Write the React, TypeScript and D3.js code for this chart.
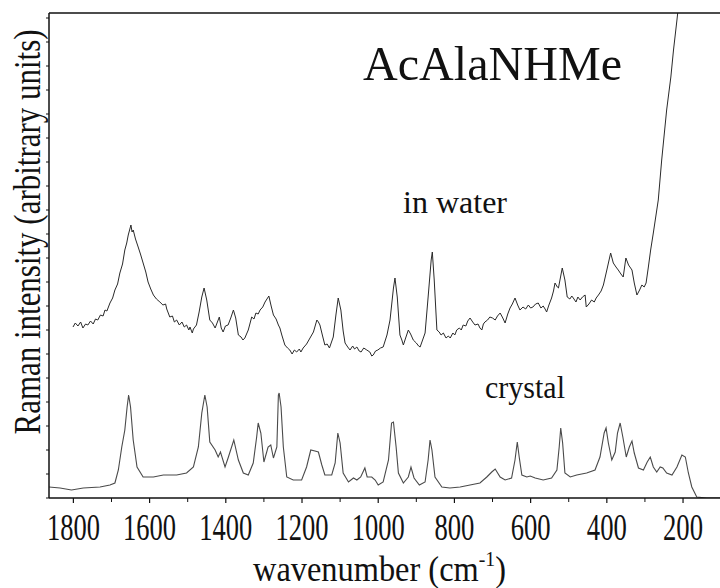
import React from "react";
import * as d3 from "d3";

// ---- data (wavenumber cm^-1, intensity in arbitrary units) ----
const waterSpectrum: [number, number][] = [
  [1801, 171], [1795, 175], [1788, 172], [1781, 176], [1775, 170], [1768, 174], [1762, 173],
  [1755, 177], [1748, 174], [1742, 179], [1736, 178], [1729, 183], [1722, 182], [1717, 188],
  [1712, 187], [1704, 195], [1697, 200], [1691, 208], [1684, 214], [1678, 225], [1671, 234],
  [1665, 248], [1660, 255], [1656, 263], [1649, 273], [1646, 266], [1643, 268], [1637, 259],
  [1630, 251], [1624, 244], [1617, 235], [1610, 226], [1604, 216], [1597, 209], [1590, 203],
  [1582, 199], [1573, 196], [1565, 193], [1558, 194], [1555, 189], [1547, 181], [1540, 182],
  [1535, 176], [1529, 178], [1522, 173], [1515, 176], [1509, 171], [1503, 173], [1497, 168],
  [1494, 171], [1488, 165], [1485, 169], [1477, 173], [1470, 186], [1463, 201], [1457, 210],
  [1450, 198], [1442, 178], [1435, 175], [1428, 170], [1422, 176], [1417, 181], [1412, 170],
  [1407, 166], [1401, 172], [1394, 173], [1387, 180], [1380, 188], [1374, 180], [1367, 163],
  [1360, 161], [1355, 158], [1350, 160], [1341, 168], [1332, 181], [1326, 179], [1321, 185],
  [1315, 184], [1310, 188], [1303, 191], [1297, 196], [1287, 202], [1281, 192], [1275, 183],
  [1268, 179], [1262, 173], [1258, 170], [1253, 163], [1245, 153], [1238, 150], [1232, 148],
  [1226, 144], [1220, 148], [1214, 146], [1207, 149], [1203, 146], [1197, 150], [1188, 154],
  [1179, 160], [1170, 166], [1161, 178], [1157, 176], [1153, 173], [1146, 162], [1140, 153],
  [1134, 154], [1128, 150], [1118, 161], [1111, 183], [1105, 200], [1098, 188], [1092, 167],
  [1087, 155], [1080, 151], [1074, 148], [1067, 152], [1062, 149], [1056, 151], [1050, 147],
  [1045, 146], [1038, 150], [1030, 148], [1022, 146], [1017, 142], [1013, 143], [1007, 147],
  [1001, 148], [994, 150], [987, 151], [977, 163], [969, 178], [960, 210], [956, 220],
  [950, 201], [943, 163], [938, 158], [934, 153], [928, 160], [921, 168], [915, 164],
  [908, 158], [900, 155], [894, 152], [890, 151], [877, 165], [869, 201], [861, 238],
  [858, 246], [853, 218], [846, 168], [840, 166], [835, 163], [829, 165], [822, 160],
  [816, 162], [811, 160], [804, 165], [799, 163], [794, 168], [787, 170], [782, 168],
  [777, 173], [770, 172], [765, 177], [759, 180], [752, 176], [746, 173], [738, 174],
  [733, 170], [728, 168], [724, 174], [720, 176], [713, 178], [707, 181], [700, 180],
  [693, 178], [687, 182], [680, 185], [673, 180], [667, 175], [660, 184], [654, 190],
  [648, 194], [641, 200], [634, 193], [628, 188], [620, 191], [613, 189], [606, 193],
  [600, 190], [594, 191], [587, 194], [580, 195], [573, 190], [567, 192], [562, 189],
  [558, 186], [552, 193], [545, 200], [540, 207], [536, 215], [530, 211], [527, 210],
  [517, 230], [510, 218], [504, 201], [497, 199], [492, 202], [488, 200], [481, 196],
  [476, 201], [470, 198], [464, 201], [457, 203], [454, 191], [447, 194], [440, 198],
  [433, 196], [428, 200], [422, 203], [415, 207], [409, 213], [400, 228], [390, 245],
  [383, 235], [376, 231], [370, 228], [363, 224], [357, 221], [350, 240], [343, 233],
  [334, 228], [328, 215], [321, 203], [314, 208], [308, 213], [302, 211], [297, 215],
  [291, 231], [285, 248], [278, 265], [265, 298], [256, 338], [243, 388], [232, 421],
  [225, 448], [216, 478], [214, 485],
];

const crystalSpectrum: [number, number][] = [
  [1864, 11], [1835, 10], [1805, 8], [1774, 10], [1730, 11], [1704, 13], [1691, 15],
  [1682, 28], [1673, 51], [1665, 68], [1659, 91], [1655, 103], [1650, 91], [1643, 58],
  [1633, 31], [1617, 21], [1590, 21], [1564, 23], [1529, 23], [1503, 25], [1485, 31],
  [1472, 51], [1463, 85], [1455, 103], [1449, 91], [1442, 56], [1428, 48], [1420, 41],
  [1414, 46], [1402, 31], [1394, 40], [1379, 58], [1367, 38], [1354, 25], [1341, 23],
  [1328, 35], [1319, 61], [1315, 75], [1308, 65], [1300, 36], [1289, 51], [1282, 53],
  [1275, 40], [1266, 51], [1262, 103], [1260, 105], [1255, 91], [1249, 51], [1240, 21],
  [1223, 18], [1201, 18], [1188, 31], [1177, 48], [1166, 47], [1157, 46], [1148, 33],
  [1140, 23], [1122, 23], [1113, 35], [1106, 65], [1100, 55], [1092, 25], [1078, 16],
  [1065, 20], [1056, 18], [1046, 21], [1035, 30], [1029, 21], [1017, 21], [1008, 18],
  [1000, 13], [987, 16], [973, 38], [965, 75], [960, 76], [953, 51], [947, 25],
  [934, 15], [921, 21], [914, 31], [906, 20], [892, 13], [877, 16], [869, 38],
  [864, 58], [859, 48], [851, 21], [833, 11], [812, 10], [785, 11], [759, 13],
  [733, 15], [715, 21], [702, 26], [693, 29], [680, 21], [667, 18], [650, 20],
  [641, 38], [635, 56], [630, 41], [623, 23], [610, 21], [601, 22], [588, 20],
  [567, 18], [545, 20], [531, 28], [525, 51], [521, 70], [516, 55], [510, 25],
  [496, 21], [479, 23], [453, 25], [431, 28], [418, 41], [407, 65], [402, 70],
  [396, 55], [387, 38], [378, 46], [372, 65], [365, 75], [358, 61], [349, 41],
  [341, 51], [334, 57], [328, 45], [317, 30], [304, 28], [294, 36], [286, 41],
  [278, 31], [269, 26], [260, 31], [253, 30], [243, 25], [229, 23], [216, 31],
  [203, 43], [194, 41], [186, 25], [177, 11], [164, 1], [138, 0], [103, 0],
];

const xTickLabels = [1800, 1600, 1400, 1200, 1000, 800, 600, 400, 200];
const xMinorTicks = [1700, 1500, 1300, 1100, 900, 700, 500, 300];
const yTicks = d3.range(0, 481, 24);

const W = 720;
const H = 588;
const left = 49;
const right = 720;
const top = 13;
const bottom = 498;

export default function App() {
  const x = d3.scaleLinear().domain([1864, 103]).range([left, right]);
  const y = d3.scaleLinear().domain([0, 485]).range([bottom, top]);
  const line = d3
    .line<[number, number]>()
    .x((d) => x(d[0]))
    .y((d) => y(d[1]));

  const font = "'Liberation Serif', 'Times New Roman', serif";

  return (
    <svg
      width={W}
      height={H}
      style={{ position: "absolute", left: 0, top: 0, background: "#fff" }}
      fontFamily={font}
    >
      <rect x={0} y={0} width={W} height={H} fill="#fff" />
      <defs>
        <clipPath id="plotClip">
          <rect x={left} y={top} width={right - left} height={bottom - top} />
        </clipPath>
      </defs>

      {/* curves */}
      <g clipPath="url(#plotClip)" fill="none">
        <path d={line(waterSpectrum) || ""} stroke="#2a2a2a" strokeWidth={1} />
        <path d={line(crystalSpectrum) || ""} stroke="#4a4a4a" strokeWidth={1.1} />
      </g>

      {/* frame */}
      <line x1={left} x2={right} y1={top} y2={top} stroke="#111" strokeWidth={1.5} />
      <line x1={left} x2={right} y1={bottom} y2={bottom} stroke="#111" strokeWidth={1.5} />
      <line x1={left} x2={left} y1={top} y2={bottom} stroke="#111" strokeWidth={1.5} />

      {/* y ticks */}
      {yTicks.map((t) => (
        <line key={"y" + t} x1={left - 3} x2={left} y1={y(t)} y2={y(t)} stroke="#111" strokeWidth={1} />
      ))}

      {/* x ticks */}
      {xTickLabels.map((t) => (
        <line key={"xt" + t} x1={x(t)} x2={x(t)} y1={bottom} y2={bottom + 5} stroke="#111" strokeWidth={1.2} />
      ))}
      {xMinorTicks.map((t) => (
        <line key={"xm" + t} x1={x(t)} x2={x(t)} y1={bottom} y2={bottom + 4} stroke="#111" strokeWidth={1} />
      ))}
      {xTickLabels.map((t) => {
        const s = String(t);
        return (
          <text
            key={"xl" + t}
            x={x(t)}
            y={540}
            fontSize={37}
            textAnchor="middle"
            textLength={s.length === 4 ? 53 : 40}
            lengthAdjust="spacingAndGlyphs"
            fill="#111"
          >
            {s}
          </text>
        );
      })}

      {/* x axis title */}
      <text transform="translate(253,581) scale(0.9,1)" fontSize={36} fill="#111">
        wavenumber (cm
        <tspan fontSize={22} dy={-15}>-1</tspan>
        <tspan dy={15}>)</tspan>
      </text>

      {/* y axis title */}
      <text
        transform="translate(40,232) rotate(-90)"
        fontSize={37}
        textAnchor="middle"
        textLength={405}
        lengthAdjust="spacingAndGlyphs"
        fill="#111"
      >
        Raman intensity (arbitrary units)
      </text>

      {/* annotations */}
      <text x={363} y={80} fontSize={48} textLength={259} lengthAdjust="spacingAndGlyphs" fill="#111">
        AcAlaNHMe
      </text>
      <text x={403} y={213} fontSize={32} textLength={104} lengthAdjust="spacingAndGlyphs" fill="#111">
        in water
      </text>
      <text x={485} y={398} fontSize={31} textLength={80} lengthAdjust="spacingAndGlyphs" fill="#111">
        crystal
      </text>
    </svg>
  );
}
